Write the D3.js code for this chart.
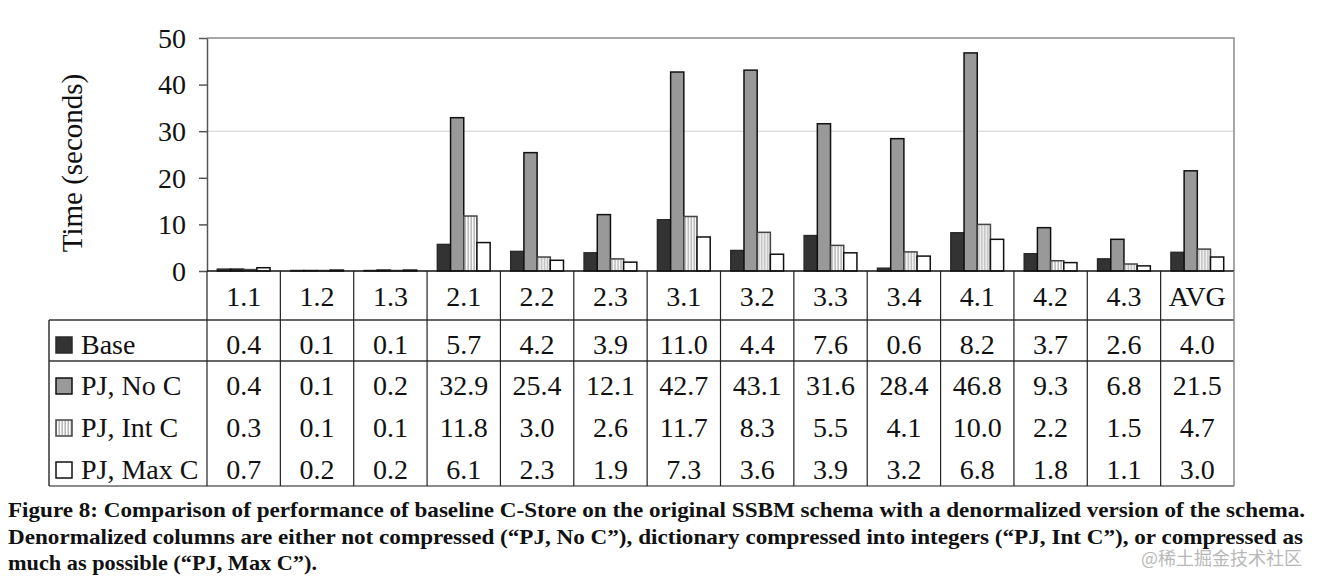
<!DOCTYPE html>
<html>
<head>
<meta charset="utf-8">
<script src="https://cdn.jsdelivr.net/npm/d3@7"></script>
<style>
	body { margin: 0; background: white; }
	svg { display: block; }
	text { font-family: 'Liberation Serif', 'Times New Roman', serif; fill: #111; }
</style>
</head>
<body>
<div id="chart"></div>
<script>
// queries (columns of the table)
var queries = ['1.1', '1.2', '1.3', '2.1', '2.2', '2.3', '3.1', '3.2', '3.3', '3.4', '4.1', '4.2', '4.3', 'AVG'];

// series names
var series = ['Base', 'PJ, No C', 'PJ, Int C', 'PJ, Max C'];

// time in seconds, one array per series
var base_vals = [0.4, 0.1, 0.1, 5.7, 4.2, 3.9, 11.0, 4.4, 7.6, 0.6, 8.2, 3.7, 2.6, 4.0];
var pj_no_c = [0.4, 0.1, 0.2, 32.9, 25.4, 12.1, 42.7, 43.1, 31.6, 28.4, 46.8, 9.3, 6.8, 21.5];
var pj_int_c = [0.3, 0.1, 0.1, 11.8, 3.0, 2.6, 11.7, 8.3, 5.5, 4.1, 10.0, 2.2, 1.5, 4.7];
var pj_max_c = [0.7, 0.2, 0.2, 6.1, 2.3, 1.9, 7.3, 3.6, 3.9, 3.2, 6.8, 1.8, 1.1, 3.0];

var y_ticks = [0, 10, 20, 30, 40, 50];
var grid_ticks = [30];

var caption = [
	'Figure 8: Comparison of performance of baseline C-Store on the original SSBM schema with a denormalized version of the schema.',
	'Denormalized columns are either not compressed (\u201cPJ, No C\u201d), dictionary compressed into integers (\u201cPJ, Int C\u201d), or compressed as',
	'much as possible (\u201cPJ, Max C\u201d).'
];


/**
 * Draws the bar chart with its data table
 * @return {void} Nothing
 */
function create_chart() {
	var values = [base_vals, pj_no_c, pj_int_c, pj_max_c];

	var svg = d3.select('#chart')
		.append('svg')
		.attr('width', 1320)
		.attr('height', 587);

	// stripes for "PJ, Int C"
	var pat = svg.append('defs')
		.append('pattern')
		.attr('id', 'stripes')
		.attr('patternUnits', 'userSpaceOnUse')
		.attr('width', 3)
		.attr('height', 10);
	pat.append('rect')
		.attr('width', 3)
		.attr('height', 10)
		.attr('fill', 'white');
	pat.append('rect')
		.attr('x', 1.5)
		.attr('width', 1.3)
		.attr('height', 10)
		.attr('fill', '#a8a8a8');

	var fills = ['#333333', '#999999', 'url(#stripes)', '#ffffff'];
	var strokes = ['#2a2a2a', '#111', '#444', '#111'];

	var left = 207, right = 1234, top = 38, bottom = 271;

	var x = d3.scaleBand()
		.domain(queries)
		.range([left, right]);

	var xs = d3.scaleBand()
		.domain(series)
		.range([0, x.bandwidth()])
		.paddingOuter(0.78);

	var y = d3.scaleLinear()
		.domain([0, 50])
		.range([bottom, top]);

	// gridline
	svg.append('g')
		.selectAll('line')
		.data(grid_ticks)
		.enter()
		.append('line')
			.attr('x1', left)
			.attr('x2', right)
			.attr('y1', function(d) { return y(d); })
			.attr('y2', function(d) { return y(d); })
			.attr('stroke', '#d0d0d0')
			.attr('stroke-width', 1);

	// plot frame (top + right)
	svg.append('path')
		.attr('d', 'M' + left + ',' + top + 'H' + right + 'V' + bottom)
		.attr('fill', 'none')
		.attr('stroke', '#8a8a8a')
		.attr('stroke-width', 1.5);

	// bars
	var groups = svg.append('g')
		.selectAll('g')
		.data(queries)
		.enter()
		.append('g')
			.attr('transform', function(d) { return 'translate(' + x(d) + ',0)'; });

	groups.selectAll('rect')
		.data(function(d, i) {
			return series.map(function(s, j) { return {s: s, j: j, v: values[j][i]}; });
		})
		.enter()
		.append('rect')
			.attr('x', function(d) { return xs(d.s); })
			.attr('y', function(d) { return y(d.v); })
			.attr('width', xs.bandwidth())
			.attr('height', function(d) { return bottom - y(d.v); })
			.attr('fill', function(d) { return fills[d.j]; })
			.attr('stroke', function(d) { return strokes[d.j]; })
			.attr('stroke-width', 1.5);

	// y axis
	var axis = svg.append('g')
		.attr('transform', 'translate(' + left + ',0)')
		.call(d3.axisLeft(y).tickValues(y_ticks).tickSize(8).tickSizeOuter(0).tickPadding(13));
	axis.select('.domain').attr('stroke', '#555').attr('stroke-width', 1.5);
	axis.selectAll('.tick line').attr('stroke', '#555').attr('stroke-width', 1.5);
	axis.selectAll('.tick text')
		.style('font-family', 'Liberation Serif, serif')
		.style('font-size', '28px')
		.attr('fill', '#111')
		.attr('dy', '0.33em');

	// y-axis label
	svg.append('text')
		.attr('text-anchor', 'middle')
		.attr('transform', 'translate(82,163) rotate(-90)')
		.style('font-size', '29px')
		.text('Time (seconds)');

	// table
	var row_lines = [320, 361, 486];
	var row_base = [354, 395, 437, 479];
	var table = svg.append('g');

	table.selectAll('.hline')
		.data(row_lines)
		.enter()
		.append('line')
			.attr('x1', 49)
			.attr('x2', right)
			.attr('y1', function(d) { return d; })
			.attr('y2', function(d) { return d; })
			.attr('stroke', function(d, i) { return i == 2 ? '#666' : '#333'; })
			.attr('stroke-width', 1.5);

	table.append('line')
		.attr('x1', left).attr('x2', right)
		.attr('y1', bottom).attr('y2', bottom)
		.attr('stroke', '#111')
		.attr('stroke-width', 1.5);

	table.selectAll('.vline')
		.data(queries)
		.enter()
		.append('line')
			.attr('x1', function(d) { return x(d); })
			.attr('x2', function(d) { return x(d); })
			.attr('y1', bottom)
			.attr('y2', 486)
			.attr('stroke', '#222')
			.attr('stroke-width', 1.2);

	table.append('line')
		.attr('x1', 49).attr('x2', 49)
		.attr('y1', 320).attr('y2', 486)
		.attr('stroke', '#333')
		.attr('stroke-width', 1.5);

	table.append('line')
		.attr('x1', right).attr('x2', right)
		.attr('y1', bottom).attr('y2', 486)
		.attr('stroke', '#8a8a8a')
		.attr('stroke-width', 1.5);

	// column headers
	table.selectAll('.cat')
		.data(queries)
		.enter()
		.append('text')
			.attr('x', function(d) { return x(d) + x.bandwidth() / 2; })
			.attr('y', 306)
			.attr('text-anchor', 'middle')
			.style('font-size', '28px')
			.text(function(d) { return d; });

	// legend keys + values
	series.forEach(function(s, j) {
		table.append('rect')
			.attr('x', 56)
			.attr('y', row_base[j] - 17)
			.attr('width', 16)
			.attr('height', 16)
			.attr('fill', fills[j])
			.attr('stroke', strokes[j])
			.attr('stroke-width', 1.5);
		table.append('text')
			.attr('x', 81)
			.attr('y', row_base[j])
			.style('font-size', '28px')
			.text(s);
		table.selectAll('.v' + j)
			.data(values[j])
			.enter()
			.append('text')
				.attr('x', function(d, i) { return x(queries[i]) + x.bandwidth() / 2; })
				.attr('y', row_base[j])
				.attr('text-anchor', 'middle')
				.style('font-size', '28px')
				.text(function(d) { return d.toFixed(1); });
	});

	// caption
	var cap_len = [1297, 1295, 309];
	svg.selectAll('.caption')
		.data(caption)
		.enter()
		.append('text')
			.attr('x', 8)
			.attr('y', function(d, i) { return 517 + 26.5 * i; })
			.attr('textLength', function(d, i) { return cap_len[i]; })
			.attr('lengthAdjust', 'spacingAndGlyphs')
			.style('font-size', '21px')
			.style('font-weight', 'bold')
			.text(function(d) { return d; });

	// watermark
	svg.append('text')
		.attr('x', 1302)
		.attr('y', 565)
		.attr('text-anchor', 'end')
		.style('font-family', 'Noto Sans CJK SC, sans-serif')
		.style('font-size', '18px')
		.style('fill', '#b8b8b8')
		.text('@稀土掘金技术社区');
}


create_chart();
</script>
</body>
</html>
